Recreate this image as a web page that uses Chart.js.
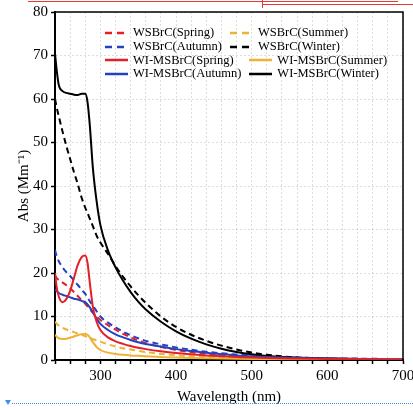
<!DOCTYPE html>
<html>
<head>
<meta charset="utf-8">
<script src="https://cdn.jsdelivr.net/npm/chart.js@4"></script>
<style>
  body { margin: 0; background: #fff; }
  #wrap { position: relative; width: 413px; height: 408px; }
  #legend { position: absolute; left: 105px; top: 26px; font-family: "Liberation Serif", serif; font-size: 12.5px; color: #000; }
  .grp { display: grid; width: max-content; grid-template-columns: max-content max-content; column-gap: 8px; }
  .item { display: flex; align-items: center; height: 13.7px; white-space: nowrap; }
  .item svg { margin-right: 5px; }
  .deco { position: absolute; }
</style>
</head>
<body>
<div id="wrap">
  <canvas id="absChart" width="413" height="408"></canvas>
  <div id="legend"></div>
  <div class="deco" style="left:28px;top:1px;width:370px;height:1px;background:#e53935"></div>
  <div class="deco" style="left:262px;top:4px;width:151px;height:1px;background:#e53935"></div>
  <div class="deco" style="left:262px;top:0;width:1px;height:8px;background:#e53935"></div>
  <div class="deco" style="left:12px;top:403px;width:401px;height:0;border-top:1px dotted #3d8fe0"></div>
  <div class="deco" style="left:5px;top:400px;width:0;height:0;border-left:3px solid transparent;border-right:3px solid transparent;border-top:5px solid #3d8fe0"></div>
</div>
<script>
// wavelength grid (nm)
const wavelengths = [240, 242, 245, 250, 255, 260, 265, 270, 275, 280, 283, 286, 290, 295, 300, 310, 320, 330, 340, 350, 360, 380, 400, 420, 440, 460, 480, 500, 520, 550, 600, 650, 700];

// WSBrC (dashed)
const wsSpring = [19.5, 18.9, 18.4, 17.8, 17.2, 16.5, 15.6, 14.7, 13.8, 12.9, 12.3, 11.7, 10.9, 10.0, 9.2, 8.0, 7.0, 6.0, 5.2, 4.5, 3.9, 3.0, 2.3, 1.8, 1.4, 1.1, 0.9, 0.75, 0.6, 0.45, 0.3, 0.2, 0.1];
const wsSummer = [8.8, 8.4, 7.9, 7.4, 7.0, 6.7, 6.4, 6.1, 5.8, 5.5, 5.3, 5.1, 4.8, 4.5, 4.2, 3.6, 3.1, 2.7, 2.4, 2.1, 1.8, 1.4, 1.1, 0.85, 0.7, 0.55, 0.45, 0.38, 0.3, 0.22, 0.15, 0.1, 0.05];
const wsAutumn = [25.3, 24.0, 22.7, 21.3, 20.2, 19.3, 18.3, 17.3, 16.2, 15.2, 14.4, 13.5, 12.5, 11.2, 10.0, 8.6, 7.5, 6.5, 5.7, 5.0, 4.4, 3.6, 2.9, 2.35, 1.9, 1.55, 1.25, 1.0, 0.8, 0.6, 0.4, 0.3, 0.2];
const wsWinter = [60, 58.3, 56, 52.5, 49.2, 46.2, 43.2, 40.5, 37.4, 35.0, 33.8, 32.5, 30.8, 28.6, 27.0, 24.4, 21.6, 19.1, 16.9, 14.9, 13.1, 10.0, 7.6, 5.8, 4.4, 3.3, 2.4, 1.7, 1.2, 0.7, 0.35, 0.2, 0.1];

// WI-MSBrC (solid)
const wiSpring = [20, 17, 14.6, 13.3, 14.0, 15.9, 18.8, 21.8, 23.6, 24.0, 22.3, 17.8, 12.3, 8.8, 6.9, 5.2, 4.3, 3.7, 3.2, 2.8, 2.5, 2.0, 1.6, 1.3, 1.05, 0.85, 0.7, 0.55, 0.45, 0.35, 0.25, 0.15, 0.1];
const wiSummer = [5.8, 5.4, 5.0, 4.85, 4.9, 5.1, 5.4, 5.7, 5.95, 6.0, 5.8, 5.2, 4.1, 3.0, 2.3, 1.7, 1.4, 1.2, 1.05, 0.95, 0.85, 0.7, 0.55, 0.45, 0.38, 0.32, 0.27, 0.23, 0.2, 0.15, 0.1, 0.07, 0.05];
const wiAutumn = [16.3, 15.9, 15.4, 15.0, 14.7, 14.4, 14.1, 13.9, 13.6, 13.3, 12.8, 12.1, 11.0, 9.5, 8.3, 6.9, 5.9, 5.2, 4.6, 4.1, 3.7, 3.1, 2.5, 2.05, 1.65, 1.35, 1.05, 0.85, 0.68, 0.5, 0.35, 0.25, 0.2];
const wiWinter = [70.5, 67, 63.2, 61.8, 61.4, 61.2, 61.0, 60.9, 61.2, 61.2, 59.3, 54.0, 44.3, 36.5, 31.0, 25.2, 21.3, 18.2, 15.6, 13.4, 11.6, 8.8, 6.6, 4.9, 3.6, 2.6, 1.85, 1.3, 0.9, 0.55, 0.3, 0.2, 0.1];

const xTicks = [300, 400, 500, 600, 700];
const yTicks = [0, 10, 20, 30, 40, 50, 60, 70, 80];

const RED = 'rgb(228,32,38)';
const YEL = 'rgb(238,178,52)';
const BLUE = 'rgb(36,66,192)';
const BLK = '#000';
const DASH = [6, 4];
const FONT = '"Liberation Serif", "Times New Roman", serif';

function pts(vals) {
    return wavelengths.map((w, i) => ({ x: w, y: vals[i] }));
}

// legend order = row by row, two per row
const series = [
    { label: 'WSBrC(Spring)', data: wsSpring, color: RED, dashed: true },
    { label: 'WSBrC(Summer)', data: wsSummer, color: YEL, dashed: true },
    { label: 'WSBrC(Autumn)', data: wsAutumn, color: BLUE, dashed: true },
    { label: 'WSBrC(Winter)', data: wsWinter, color: BLK, dashed: true },
    { label: 'WI-MSBrC(Spring)', data: wiSpring, color: RED, dashed: false },
    { label: 'WI-MSBrC(Summer)', data: wiSummer, color: YEL, dashed: false },
    { label: 'WI-MSBrC(Autumn)', data: wiAutumn, color: BLUE, dashed: false },
    { label: 'WI-MSBrC(Winter)', data: wiWinter, color: BLK, dashed: false }
];

const datasets = series.map(s => ({
    label: s.label,
    data: pts(s.data),
    borderColor: s.color,
    borderWidth: 2,
    borderDash: s.dashed ? DASH : [],
    pointRadius: 0,
    fill: false,
    cubicInterpolationMode: 'monotone',
    order: s.dashed ? 1 : 0
}));

// black frame on top and right side of the plot
const framePlugin = {
    id: 'frame',
    afterDraw(chart) {
        const { ctx, chartArea: a } = chart;
        ctx.save();
        ctx.strokeStyle = '#000';
        ctx.lineWidth = 1.5;
        ctx.beginPath();
        ctx.moveTo(a.left, a.top);
        ctx.lineTo(a.right, a.top);
        ctx.lineTo(a.right, a.bottom);
        ctx.stroke();
        ctx.restore();
    }
};

const ctx = document.getElementById('absChart').getContext('2d');
const chart = new Chart(ctx, {
    type: 'line',
    data: { datasets: datasets },
    plugins: [framePlugin],
    options: {
        responsive: false,
        animation: false,
        layout: { autoPadding: false, padding: { top: 12, right: 10, left: 0, bottom: 2 } },
        plugins: { legend: { display: false }, tooltip: { enabled: false } },
        scales: {
            x: {
                type: 'linear',
                min: 240,
                max: 700,
                // let the last label hang past the frame like the original
                afterFit: scale => { scale.paddingRight = 0; },
                ticks: {
                    stepSize: 20,
                    autoSkip: false,
                    maxRotation: 0,
                    padding: 3,
                    color: '#000',
                    font: { family: FONT, size: 15 },
                    callback: v => xTicks.includes(v) ? String(v) : ''
                },
                grid: { color: 'rgba(0,0,0,0.13)', tickColor: '#000', tickLength: 4, tickWidth: 1.5 },
                border: { color: '#000', width: 2, dash: [2, 2] },
                title: { display: true, text: 'Wavelength (nm)', color: '#000', font: { family: FONT, size: 15 }, padding: { top: 0, bottom: 0 } }
            },
            y: {
                min: 0,
                max: 80,
                ticks: {
                    stepSize: 10,
                    padding: 3,
                    color: '#000',
                    font: { family: FONT, size: 15 },
                    callback: v => yTicks.includes(v) ? String(v) : ''
                },
                grid: { color: 'rgba(0,0,0,0.13)', tickColor: '#000', tickLength: 4, tickWidth: 1.5 },
                border: { color: '#000', width: 2, dash: [2, 2] },
                title: { display: true, text: 'Abs (Mm\u207B\u00B9)', color: '#000', font: { family: FONT, size: 15 }, padding: { top: 15, bottom: -3 } }
            }
        }
    }
});

// legend drawn as html over the plot, two small grids like the original
const legendBox = document.getElementById('legend');
function sample(s) {
    const dash = s.dashed ? ' stroke-dasharray="7 5"' : '';
    return '<svg width="23" height="8"><line x1="0" y1="4" x2="23" y2="4" stroke="' + s.color + '" stroke-width="2.5"' + dash + '/></svg>';
}
[series.slice(0, 4), series.slice(4)].forEach(group => {
    const g = document.createElement('div');
    g.className = 'grp';
    group.forEach(s => {
        const it = document.createElement('div');
        it.className = 'item';
        it.innerHTML = sample(s) + '<span>' + s.label + '</span>';
        g.appendChild(it);
    });
    legendBox.appendChild(g);
});
</script>
</body>
</html>
